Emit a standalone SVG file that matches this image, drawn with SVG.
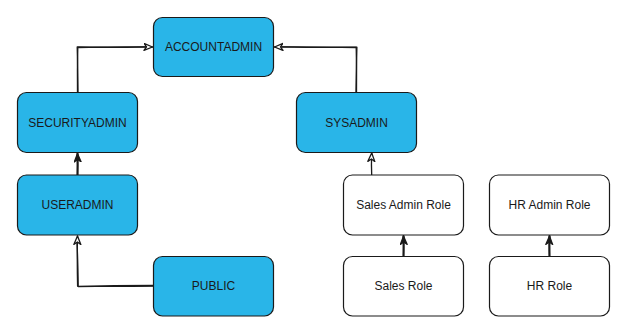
<svg xmlns="http://www.w3.org/2000/svg" width="631" height="336" viewBox="0 0 631 336">
<style>
.blue rect{fill:#29b5e8;stroke:#1a1a1a;stroke-width:1.2}
.white rect{fill:#ffffff;stroke:#1a1a1a;stroke-width:1.2}
text{font-family:"Liberation Sans",Arial,Helvetica,sans-serif;font-size:12px;fill:#1a1a1a;text-anchor:middle;dominant-baseline:central}
.edge{fill:none;stroke:#1a1a1a;stroke-width:1.3;stroke-linecap:round;stroke-linejoin:round}
.thick{stroke-width:2.2}
</style>
<defs>
<marker id="open" markerUnits="userSpaceOnUse" markerWidth="12" markerHeight="10" refX="9" refY="4" orient="auto">
<path d="M0.5,0.5 L9,4 L0.5,7.5 L3,4 Z" fill="#ffffff" stroke="#1a1a1a" stroke-width="1.3" stroke-linejoin="round"/>
</marker>
<marker id="filled" markerUnits="userSpaceOnUse" markerWidth="12" markerHeight="10" refX="9" refY="4" orient="auto">
<path d="M0.5,0.5 L9,4 L0.5,7.5 L3,4 Z" fill="#1a1a1a" stroke="#1a1a1a" stroke-width="1.2" stroke-linejoin="round"/>
</marker>
</defs>
<g id="connectors">
<path class="edge" d="M77.5,92.5 Q77.2,70 77.8,47.5 Q110,46.5 152.5,47" marker-end="url(#open)"/>
<path class="edge" d="M78,92 Q77.8,70 77.2,47 Q112,47.8 146,46.8"/>
<path class="edge" d="M356.5,92.5 Q356.8,70 356.2,47.5 Q320,46.8 274.5,47" marker-end="url(#open)"/>
<path class="edge" d="M356,92 Q356.3,70 356.9,47.2 Q318,47.6 282,46.8"/>
<path class="edge thick" d="M77.5,175 Q77.8,165 77.5,153.5" marker-end="url(#filled)"/>
<path class="edge" d="M153.5,286 Q115,286.8 77.6,286.2 Q77,262 77.5,236" marker-end="url(#open)"/>
<path class="edge" d="M153,285.5 Q113,285.6 78.2,286.6 Q77.9,260 77,243"/>
<path class="edge" d="M371.7,175 Q371.2,165 371.7,153" marker-end="url(#open)"/>
<path class="edge thick" d="M403.5,256.5 Q403.8,246 403.5,236" marker-end="url(#filled)"/>
<path class="edge thick" d="M549.5,256.5 Q549.2,246 549.5,236" marker-end="url(#filled)"/>
</g>
<g id="accountadmin" class="blue"><rect x="153.5" y="17.5" width="120" height="59" rx="9"/><text x="213.5" y="47">ACCOUNTADMIN</text></g>
<g id="securityadmin" class="blue"><rect x="17.5" y="92.5" width="120" height="60" rx="9"/><text x="77.5" y="122.5">SECURITYADMIN</text></g>
<g id="sysadmin" class="blue"><rect x="296.5" y="92.5" width="120" height="60" rx="9"/><text x="356.5" y="122.5">SYSADMIN</text></g>
<g id="useradmin" class="blue"><rect x="17.5" y="175" width="120" height="60" rx="9"/><text x="77.5" y="205">USERADMIN</text></g>
<g id="public" class="blue"><rect x="153.5" y="256.5" width="120" height="59.5" rx="9"/><text x="213.5" y="286">PUBLIC</text></g>
<g id="sales-admin-role" class="white"><rect x="343.5" y="175" width="120" height="60" rx="9"/><text x="403.5" y="205">Sales Admin Role</text></g>
<g id="hr-admin-role" class="white"><rect x="489.5" y="175" width="120" height="60" rx="9"/><text x="549.5" y="205">HR Admin Role</text></g>
<g id="sales-role" class="white"><rect x="343.5" y="256.5" width="120" height="59.5" rx="9"/><text x="403.5" y="286">Sales Role</text></g>
<g id="hr-role" class="white"><rect x="489.5" y="256.5" width="120" height="59.5" rx="9"/><text x="549.5" y="286">HR Role</text></g>
</svg>
